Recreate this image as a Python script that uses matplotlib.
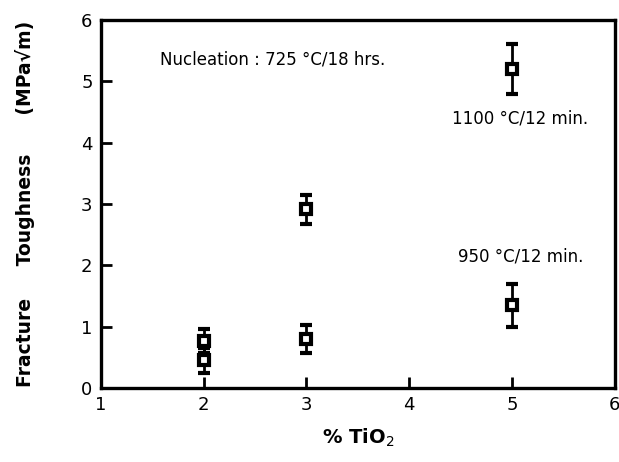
import matplotlib
matplotlib.use("Agg")
import matplotlib.pyplot as plt

# Data
x_vals = [2, 2, 3, 3, 5, 5]
y_vals = [0.77, 0.45, 2.91, 0.80, 5.20, 1.35]
y_err = [0.20, 0.20, 0.23, 0.23, 0.41, 0.35]

x_ticks = [1, 2, 3, 4, 5, 6]
y_ticks = [0, 1, 2, 3, 4, 5, 6]

fig = plt.figure(figsize=(6.19, 4.62), dpi=100)
ax = fig.add_axes([0.163, 0.160, 0.830, 0.797])

ax.errorbar(x_vals, y_vals, yerr=y_err, fmt='s', color='black',
            markersize=7, markerfacecolor='white', markeredgecolor='black',
            markeredgewidth=3.0, ecolor='black', elinewidth=2.0,
            capsize=4.5, capthick=2.0, zorder=3)

ax.set_xlim(1, 6)
ax.set_ylim(0, 6)
ax.set_xticks(x_ticks)
ax.set_yticks(y_ticks)
ax.tick_params(direction='in', length=8, width=2, labelsize=13, pad=6)
for s in ax.spines.values():
    s.set_linewidth(2.4)

ax.text(1.58, 5.35, "Nucleation : 725 °C/18 hrs.", fontsize=12,
        ha='left', va='center')
ax.text(5.74, 4.39, "1100 °C/12 min.", fontsize=12, ha='right', va='center')
ax.text(5.70, 2.15, "950 °C/12 min.", fontsize=12, ha='right', va='center')

ax.set_xlabel("% TiO$_2$", fontsize=14, fontweight='bold', labelpad=9)
ax.set_ylabel("Fracture     Toughness      (MPa√m)", fontsize=13.5,
              fontweight='bold', labelpad=33)

fig.savefig("out.png", dpi=100)
